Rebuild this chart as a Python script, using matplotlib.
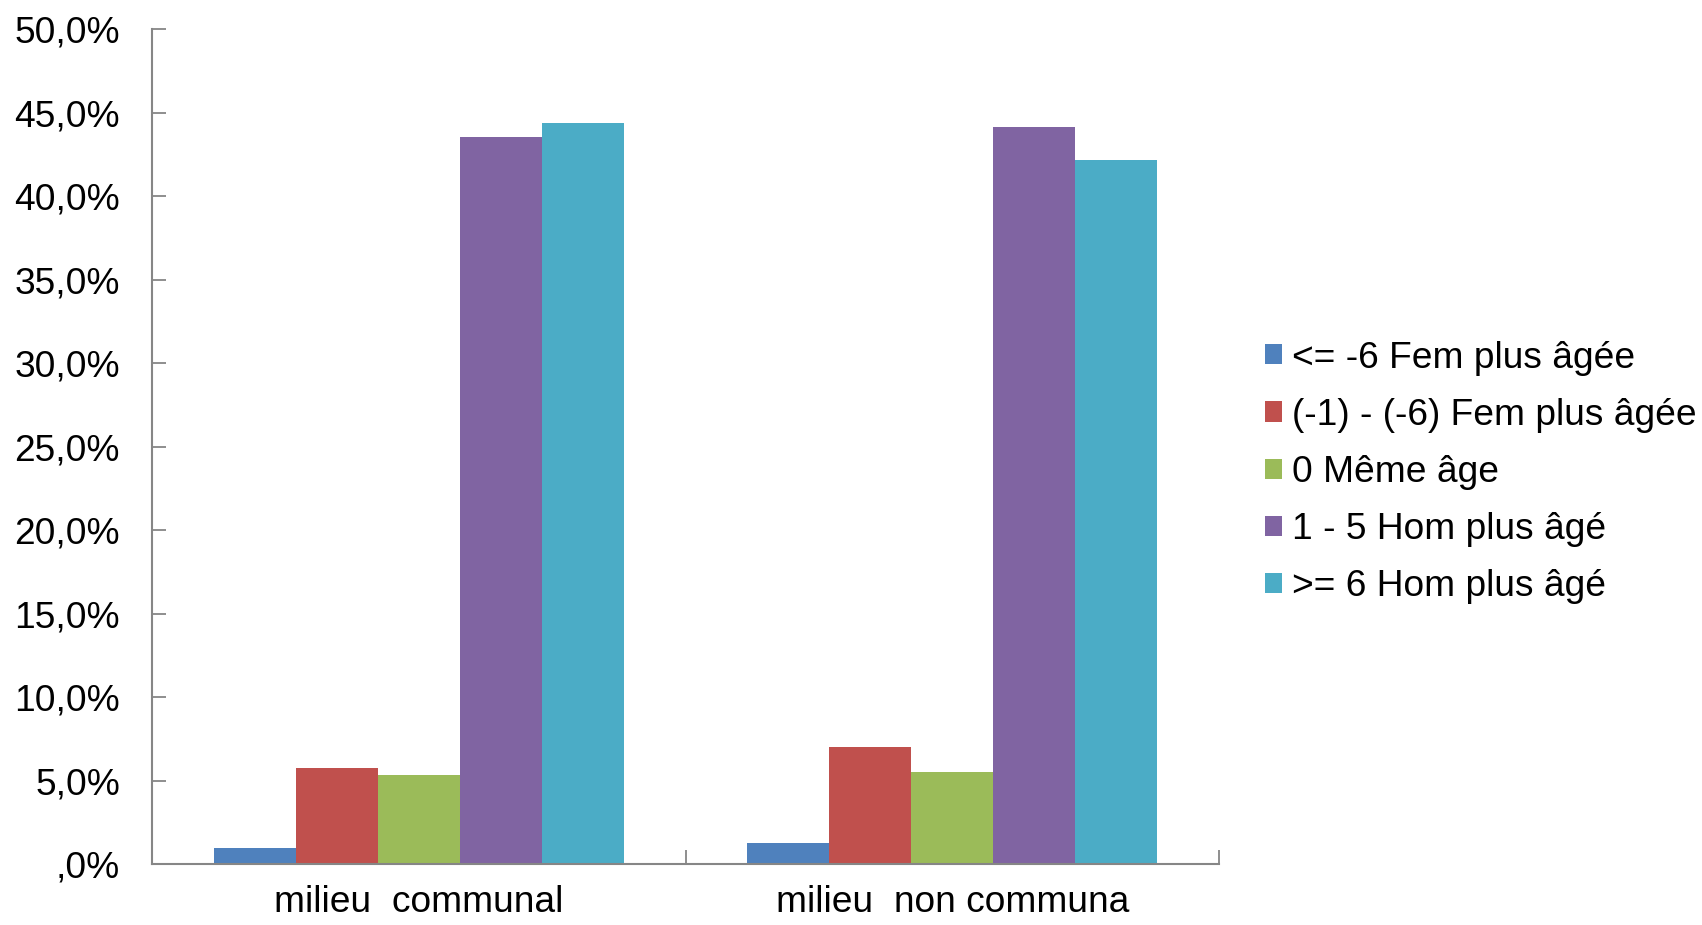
import matplotlib
matplotlib.use("Agg")
import matplotlib.pyplot as plt
import numpy as np
from matplotlib.ticker import FuncFormatter

categories = ["milieu  communal", "milieu  non communa"]
series_names = ["<= -6 Fem plus âgée", "(-1) - (-6) Fem plus âgée", "0 Même âge",
                "1 - 5 Hom plus âgé", ">= 6 Hom plus âgé"]
values = [
    [0.95, 1.25],   # <= -6
    [5.75, 7.0],    # (-1)-(-6)
    [5.35, 5.5],    # 0
    [43.55, 44.15], # 1-5
    [44.4, 42.2],   # >= 6
]
colors = ["#4F81BD", "#C0504D", "#9BBB59", "#8064A2", "#4BACC6"]
yticks = [0, 5, 10, 15, 20, 25, 30, 35, 40, 45, 50]

plt.rcParams['font.family'] = ['Liberation Sans', 'DejaVu Sans']
FS = 26.7

fig = plt.figure(figsize=(17.02, 9.25), dpi=100)
ax = fig.add_axes([152/1702, 1-864/925, (1219-152)/1702, (864-29.3)/925])

n = len(series_names)
width = 1.0 / (n + 1.5)
x = np.arange(len(categories))
for i, (name, vals, c) in enumerate(zip(series_names, values, colors)):
    offs = (i - (n - 1) / 2) * width
    ax.bar(x + offs, vals, width=width, color=c, label=name, linewidth=0)

ax.set_xlim(-0.5, len(categories) - 0.5)
ax.set_ylim(0, 50)
ax.set_yticks(yticks)
ax.yaxis.set_major_formatter(FuncFormatter(
    lambda v, p: (f"{v:.1f}".replace(".", ",").lstrip("0") if v < 1 else f"{v:.1f}".replace(".", ",")) + "%"))

ax.set_xticks(np.arange(-0.5, len(categories), 1.0))
ax.set_xticklabels([])
ax.set_xticks(x, minor=True)
ax.set_xticklabels(categories, minor=True, fontsize=FS)
ax.tick_params(axis='x', which='minor', length=0, pad=15)
ax.tick_params(axis='x', which='major', direction='in', length=10, width=1.3, color='#868686')
ax.tick_params(axis='y', direction='in', length=10, width=1.3, color='#868686', labelsize=FS, pad=23)

for s in ['top', 'right']:
    ax.spines[s].set_visible(False)
for s in ['left', 'bottom']:
    ax.spines[s].set_color('#868686')
    ax.spines[s].set_linewidth(1.5)

leg = fig.legend(loc='center left', bbox_to_anchor=(1265/1702, 1-472.5/925), frameon=False,
                 fontsize=FS, handlelength=0.46, handleheight=0.46, handletextpad=0.27,
                 labelspacing=0.6, borderpad=0, borderaxespad=0)

fig.savefig("out.png", dpi=100)
